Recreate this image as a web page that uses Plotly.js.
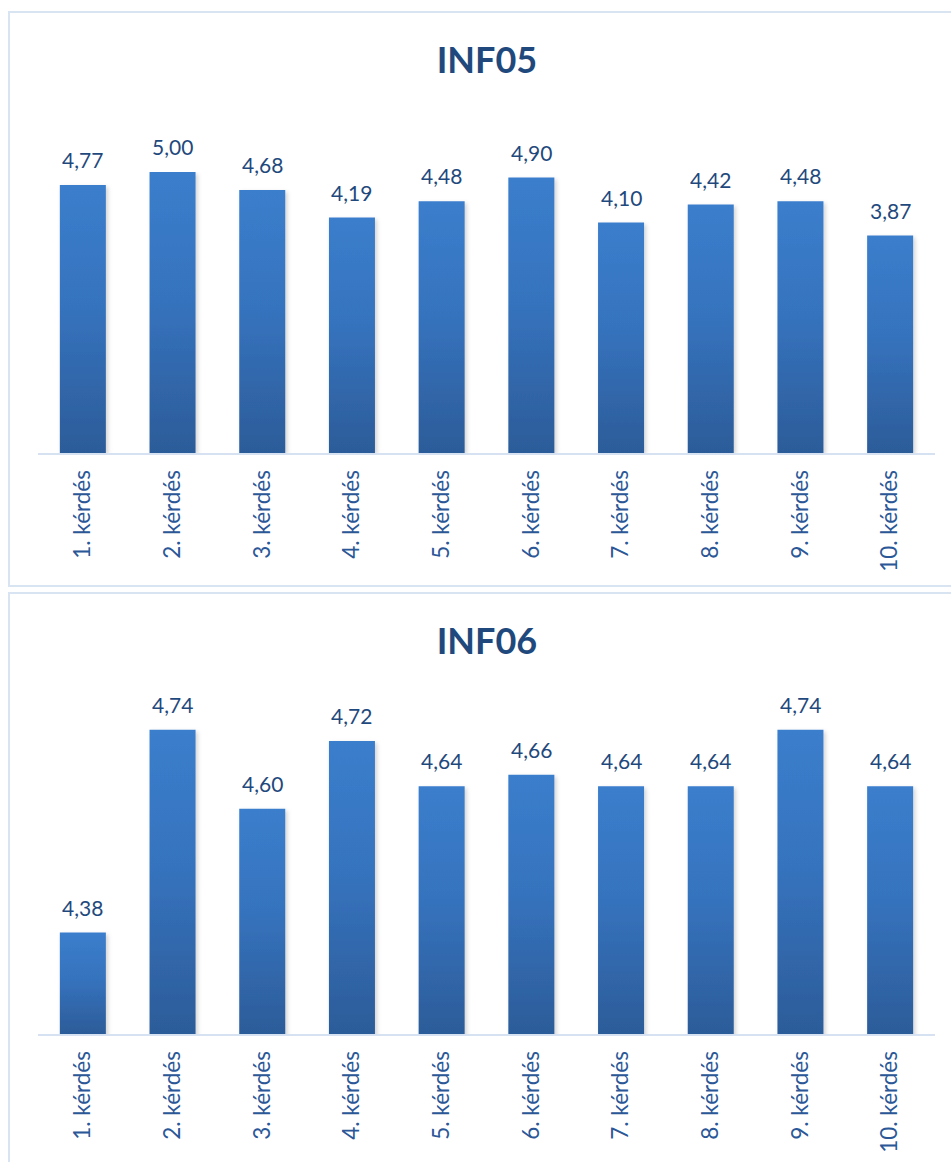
<!DOCTYPE html>
<html>
<head>
<meta charset="utf-8">
<script src="https://cdn.plot.ly/plotly-3.0.1.min.js"></script>
<style>
  html, body { margin: 0; padding: 0; background: #ffffff; width: 951px; height: 1162px; overflow: hidden; }
  .frame { position: absolute; border: 2px solid #D9E4F2; box-sizing: border-box; pointer-events: none; }
  .gd { position: absolute; left: 0; }
</style>
</head>
<body>
<div id="g1" class="gd" style="top:0px; width:951px; height:590px;"></div>
<div id="g2" class="gd" style="top:590px; width:951px; height:572px;"></div>
<div class="frame" style="left:8px; top:11px; width:960px; height:576px;"></div>
<div class="frame" style="left:8px; top:592px; width:960px; height:600px;"></div>
<script>
const categories = ["1. kérdés","2. kérdés","3. kérdés","4. kérdés","5. kérdés","6. kérdés","7. kérdés","8. kérdés","9. kérdés","10. kérdés"];
const inf05Values = [4.77, 5.00, 4.68, 4.19, 4.48, 4.90, 4.10, 4.42, 4.48, 3.87];
const inf06Values = [4.38, 4.74, 4.60, 4.72, 4.64, 4.66, 4.64, 4.64, 4.74, 4.64];
const chartTitles = ["INF05", "INF06"];

const FONT = "Lato, 'Open Sans', sans-serif";
const DARK = "#1F497D";

function fmt(v) { return v.toFixed(2).replace(".", ","); }

function makeChart(id, title, values, yRange, margin, titleY, height) {
  const trace = {
    type: "bar",
    x: categories,
    y: values,
    marker: { color: "#3570B8", line: { width: 0 } },
    hoverinfo: "none"
  };
  const annotations = values.map((v, i) => ({
    x: categories[i], y: v, xref: "x", yref: "y",
    text: fmt(v), showarrow: false, yanchor: "bottom", yshift: 11,
    font: { family: FONT, size: 21, color: DARK }
  }));
  const layout = {
    width: 951, height: height,
    margin: margin,
    paper_bgcolor: "rgba(0,0,0,0)",
    plot_bgcolor: "rgba(0,0,0,0)",
    showlegend: false,
    bargap: 0.487,
    title: {
      text: "<b>" + title + "</b>",
      font: { family: FONT, size: 36, color: DARK },
      x: 0.512, xanchor: "center",
      yref: "container", y: 1 - titleY / height, yanchor: "middle"
    },
    xaxis: {
      type: "category",
      showline: true, linecolor: "#D6E2F2", linewidth: 2,
      showgrid: false, zeroline: false, ticks: "",
      tickangle: -90,
      ticklabelstandoff: 6,
      tickfont: { family: FONT, size: 22.5, color: "#2B5797" }
    },
    yaxis: {
      range: yRange, visible: false, showgrid: false, zeroline: false, fixedrange: true
    },
    annotations: annotations
  };
  return Plotly.newPlot(id, [trace], layout, { staticPlot: true, displayModeBar: false });
}

function styleBars(id) {
  const gd = document.getElementById(id);
  const svg = gd.querySelector("svg.main-svg");
  const ns = "http://www.w3.org/2000/svg";
  let defs = svg.querySelector("defs");
  if (!defs) { defs = document.createElementNS(ns, "defs"); svg.insertBefore(defs, svg.firstChild); }
  const plotH = gd._fullLayout._size.h;
  const fid = "barShadow_" + id;
  const filt = document.createElementNS(ns, "filter");
  filt.setAttribute("id", fid);
  filt.setAttribute("x", "-20%"); filt.setAttribute("y", "-5%");
  filt.setAttribute("width", "140%"); filt.setAttribute("height", "110%");
  const sh = document.createElementNS(ns, "feDropShadow");
  sh.setAttribute("dx", "2"); sh.setAttribute("dy", "2"); sh.setAttribute("stdDeviation", "2");
  sh.setAttribute("flood-color", "#000"); sh.setAttribute("flood-opacity", "0.18");
  filt.appendChild(sh);
  defs.appendChild(filt);
  gd.querySelectorAll(".bars .point path").forEach((p, i) => {
    const bb = p.getBBox();
    const top = bb.y;
    const bottom = Math.min(bb.y + bb.height, plotH);
    const gid = "barGrad_" + id + "_" + i;
    const grad = document.createElementNS(ns, "linearGradient");
    grad.setAttribute("id", gid);
    grad.setAttribute("gradientUnits", "userSpaceOnUse");
    grad.setAttribute("x1", "0"); grad.setAttribute("y1", String(top));
    grad.setAttribute("x2", "0"); grad.setAttribute("y2", String(bottom));
    [["0%", "#3B7ECC"], ["45%", "#3673BE"], ["100%", "#2C5C99"]].forEach(([o, c]) => {
      const s = document.createElementNS(ns, "stop");
      s.setAttribute("offset", o); s.setAttribute("stop-color", c);
      grad.appendChild(s);
    });
    defs.appendChild(grad);
    p.style.fill = "url(#" + gid + ")";
    p.style.filter = "url(#" + fid + ")";
  });
}

makeChart("g1", chartTitles[0], inf05Values, [0, 5.0], { l: 38, r: 16, t: 172, b: 137 }, 60, 590)
  .then(() => styleBars("g1"));
makeChart("g2", chartTitles[1], inf06Values, [4.2, 4.8], { l: 38, r: 16, t: 106, b: 128 }, 51, 572)
  .then(() => styleBars("g2"));
</script>
</body>
</html>
